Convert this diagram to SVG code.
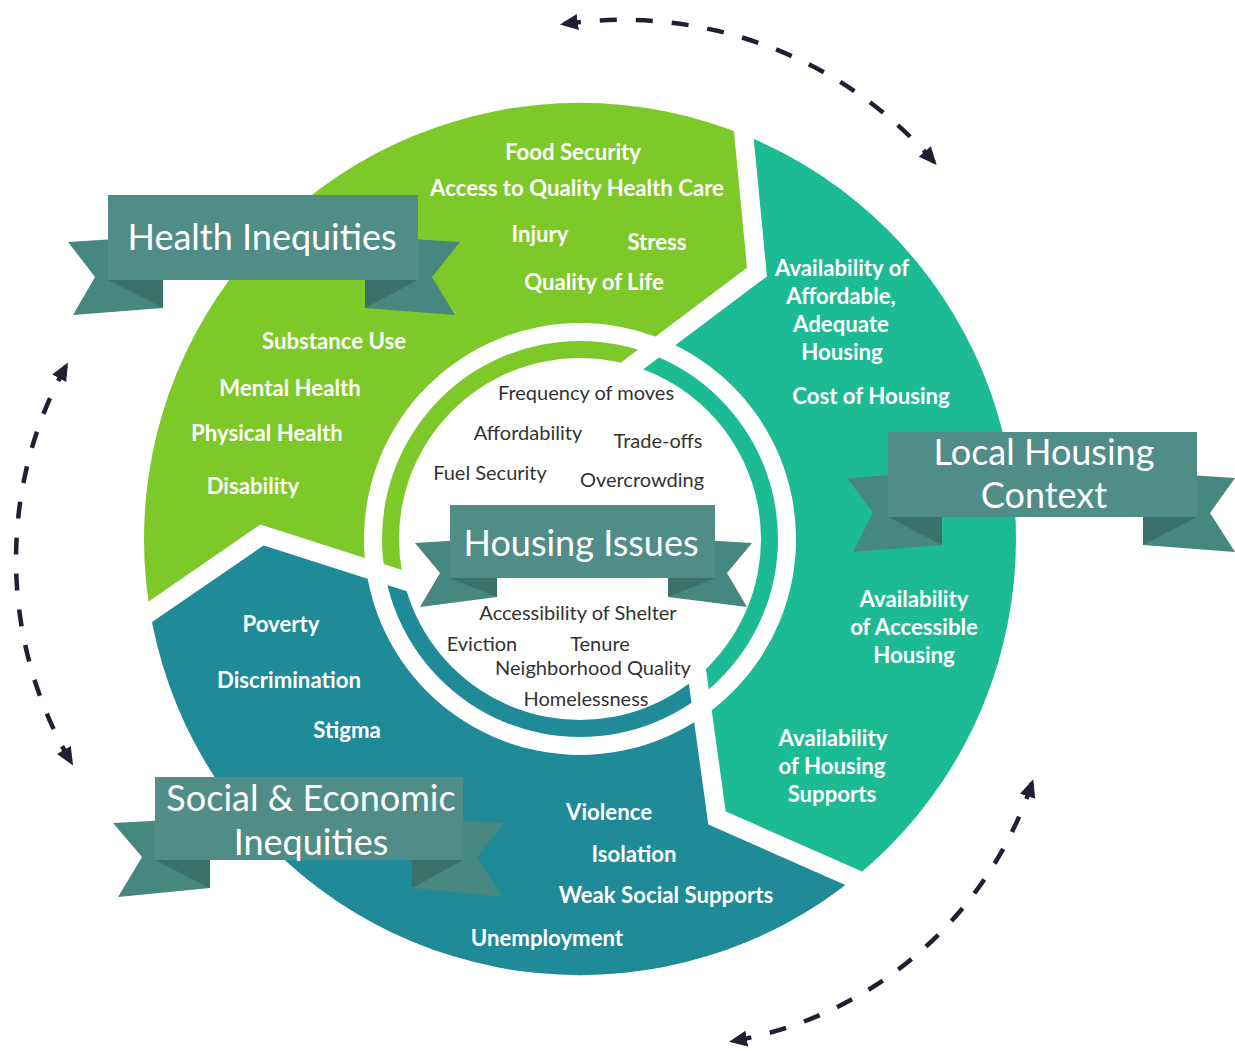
<svg xmlns="http://www.w3.org/2000/svg" width="1235" height="1051" viewBox="0 0 1235 1051">
<defs>
<style>
.lb{font-family:Lato,"Open Sans","Liberation Sans",sans-serif;font-weight:700;fill:#fff;font-size:22.2px;text-anchor:middle}
.in{font-family:Lato,"Open Sans","Liberation Sans",sans-serif;font-weight:400;fill:#333;font-size:20px;text-anchor:middle}
.rt{font-family:Lato,"Open Sans","Liberation Sans",sans-serif;font-weight:400;fill:#fff;font-size:36px;text-anchor:middle}
.green{fill:#7EC92A}
.teal{fill:#1DBB94}
.dteal{fill:#1F8A98}
.sep{fill:none;stroke:#fff;stroke-width:19;stroke-linejoin:miter}
.banner{fill:#508D87}
.tail{fill:#468780}
.fold{fill:#3A7169}
.dash{fill:none;stroke:#231F33;stroke-width:4.5;stroke-dasharray:17 19}
</style>
<clipPath id="outerAnn"><path clip-rule="evenodd" d="M144,539a436,436 0 1,0 872,0a436,436 0 1,0 -872,0z M364,539a216,216 0 1,0 432,0a216,216 0 1,0 -432,0z"/></clipPath>
<clipPath id="ringAnn"><path clip-rule="evenodd" d="M382,539a198,198 0 1,0 396,0a198,198 0 1,0 -396,0z M399,539a181,181 0 1,0 362,0a181,181 0 1,0 -362,0z"/></clipPath>
<polygon id="pGreen" points="580,539 412,583 390,576 262,535 150,612 94,650 -50,700 -50,-50 739,-50 739,60 744,137 757,272 620,375"/>
<polygon id="pTeal" points="580,539 620,375 757,272 744,137 739,60 739,-50 1300,-50 1300,1000 910,1000 910,903 717,818 700,695 695,660"/>
<polygon id="pDteal" points="580,539 695,660 700,695 717,818 910,903 910,1100 -50,1100 -50,700 94,650 150,612 262,535 390,576 412,583"/>
<marker id="ah" markerUnits="userSpaceOnUse" markerWidth="20" markerHeight="18" refX="14" refY="8" orient="auto-start-reverse" viewBox="0 0 20 18">
<path d="M0,0 L18,8 L0,16 z" fill="#231F33"/>
</marker>
</defs>
<rect width="1235" height="1051" fill="#fff"/>

<g id="segments">
<g id="health-segment" clip-path="url(#outerAnn)"><use href="#pGreen" class="green"/></g>
<g id="housing-context-segment" clip-path="url(#outerAnn)"><use href="#pTeal" class="teal"/></g>
<g id="social-segment" clip-path="url(#outerAnn)"><use href="#pDteal" class="dteal"/></g>
<g id="inner-ring" clip-path="url(#ringAnn)">
<use href="#pGreen" class="green"/><use href="#pTeal" class="teal"/><use href="#pDteal" class="dteal"/>
</g>
<g id="separators">
<polyline class="sep" points="739,60 744,137 757,272 620,375"/>
<polyline class="sep" points="94,650 150,612 262,535 390,576 412,583"/>
<polyline class="sep" points="910,903 717,818 700,695 695,660"/>
</g>
</g>

<g id="connectors">
<path class="dash" marker-start="url(#ah)" marker-end="url(#ah)" d="M564,24 A412,412 0 0,1 934,162"/>
<path class="dash" marker-start="url(#ah)" marker-end="url(#ah)" d="M66,366 A400,400 0 0,0 71,762"/>
<path class="dash" marker-start="url(#ah)" marker-end="url(#ah)" d="M1032,783 A384,384 0 0,1 733,1041"/>
</g>

<g id="health-labels">
<text class="lb" x="573" y="160">Food Security</text>
<text class="lb" x="577" y="196">Access to Quality Health Care</text>
<text class="lb" x="540" y="242">Injury</text>
<text class="lb" x="657" y="250">Stress</text>
<text class="lb" x="594" y="290">Quality of Life</text>
<text class="lb" x="334" y="349">Substance Use</text>
<text class="lb" x="290" y="396">Mental Health</text>
<text class="lb" x="267" y="441">Physical Health</text>
<text class="lb" x="253" y="494">Disability</text>
</g>

<g id="context-labels">
<text class="lb" x="842" y="276">Availability of</text>
<text class="lb" x="841" y="304">Affordable,</text>
<text class="lb" x="841" y="332">Adequate</text>
<text class="lb" x="842" y="360">Housing</text>
<text class="lb" x="871" y="404">Cost of Housing</text>
<text class="lb" x="914" y="607">Availability</text>
<text class="lb" x="914" y="635">of Accessible</text>
<text class="lb" x="914" y="663">Housing</text>
<text class="lb" x="833" y="746">Availability</text>
<text class="lb" x="832" y="774">of Housing</text>
<text class="lb" x="832" y="802">Supports</text>
</g>

<g id="social-labels">
<text class="lb" x="281" y="632">Poverty</text>
<text class="lb" x="289" y="688">Discrimination</text>
<text class="lb" x="347" y="738">Stigma</text>
<text class="lb" x="609" y="820">Violence</text>
<text class="lb" x="634" y="862">Isolation</text>
<text class="lb" x="666" y="903">Weak Social Supports</text>
<text class="lb" x="547" y="946">Unemployment</text>
</g>

<g id="housing-issues-labels">
<text class="in" x="586" y="400">Frequency of moves</text>
<text class="in" x="528" y="440">Affordability</text>
<text class="in" x="658" y="448">Trade-offs</text>
<text class="in" x="490" y="480">Fuel Security</text>
<text class="in" x="642" y="487">Overcrowding</text>
<text class="in" x="578" y="620">Accessibility of Shelter</text>
<text class="in" x="482" y="651">Eviction</text>
<text class="in" x="600" y="651">Tenure</text>
<text class="in" x="593" y="675">Neighborhood Quality</text>
<text class="in" x="586" y="706">Homelessness</text>
</g>

<g id="ribbon-health">
<polygon class="tail" points="68,242 163,236 163,308 73,315 95,277"/>
<polygon class="fold" points="108,280 163,280 163,308"/>
<polygon class="tail" points="460,242 365,236 365,308 455,315 432,277"/>
<polygon class="fold" points="418,280 365,280 365,308"/>
<rect class="banner" x="108" y="195" width="310" height="85"/>
<text class="rt" x="262" y="250">Health Inequities</text>
</g>

<g id="ribbon-housing-issues">
<polygon class="tail" points="415,543 497,538 497,597 420,607 440,573"/>
<polygon class="fold" points="450,578 497,578 497,597"/>
<polygon class="tail" points="752,543 668,538 668,597 747,607 727,573"/>
<polygon class="fold" points="715,578 668,578 668,597"/>
<rect class="banner" x="450" y="505" width="265" height="73"/>
<text class="rt" x="581" y="556">Housing Issues</text>
</g>

<g id="ribbon-local-housing">
<polygon class="tail" points="847,478 942,472 942,545 853,552 873,513"/>
<polygon class="fold" points="888,517 942,517 942,545"/>
<polygon class="tail" points="1235,478 1143,472 1143,545 1235,552 1210,513"/>
<polygon class="fold" points="1197,517 1143,517 1143,545"/>
<rect class="banner" x="888" y="432" width="309" height="85"/>
<text class="rt" x="1044" y="465">Local Housing</text>
<text class="rt" x="1044" y="508">Context</text>
</g>

<g id="ribbon-social">
<polygon class="tail" points="113,823 210,818 210,888 118,897 142,857"/>
<polygon class="fold" points="155,860 210,860 210,888"/>
<polygon class="tail" points="505,823 412,818 412,888 502,897 477,857"/>
<polygon class="fold" points="463,860 412,860 412,888"/>
<rect class="banner" x="155" y="777" width="308" height="83"/>
<text class="rt" x="311" y="811">Social &amp; Economic</text>
<text class="rt" x="311" y="855">Inequities</text>
</g>
</svg>
